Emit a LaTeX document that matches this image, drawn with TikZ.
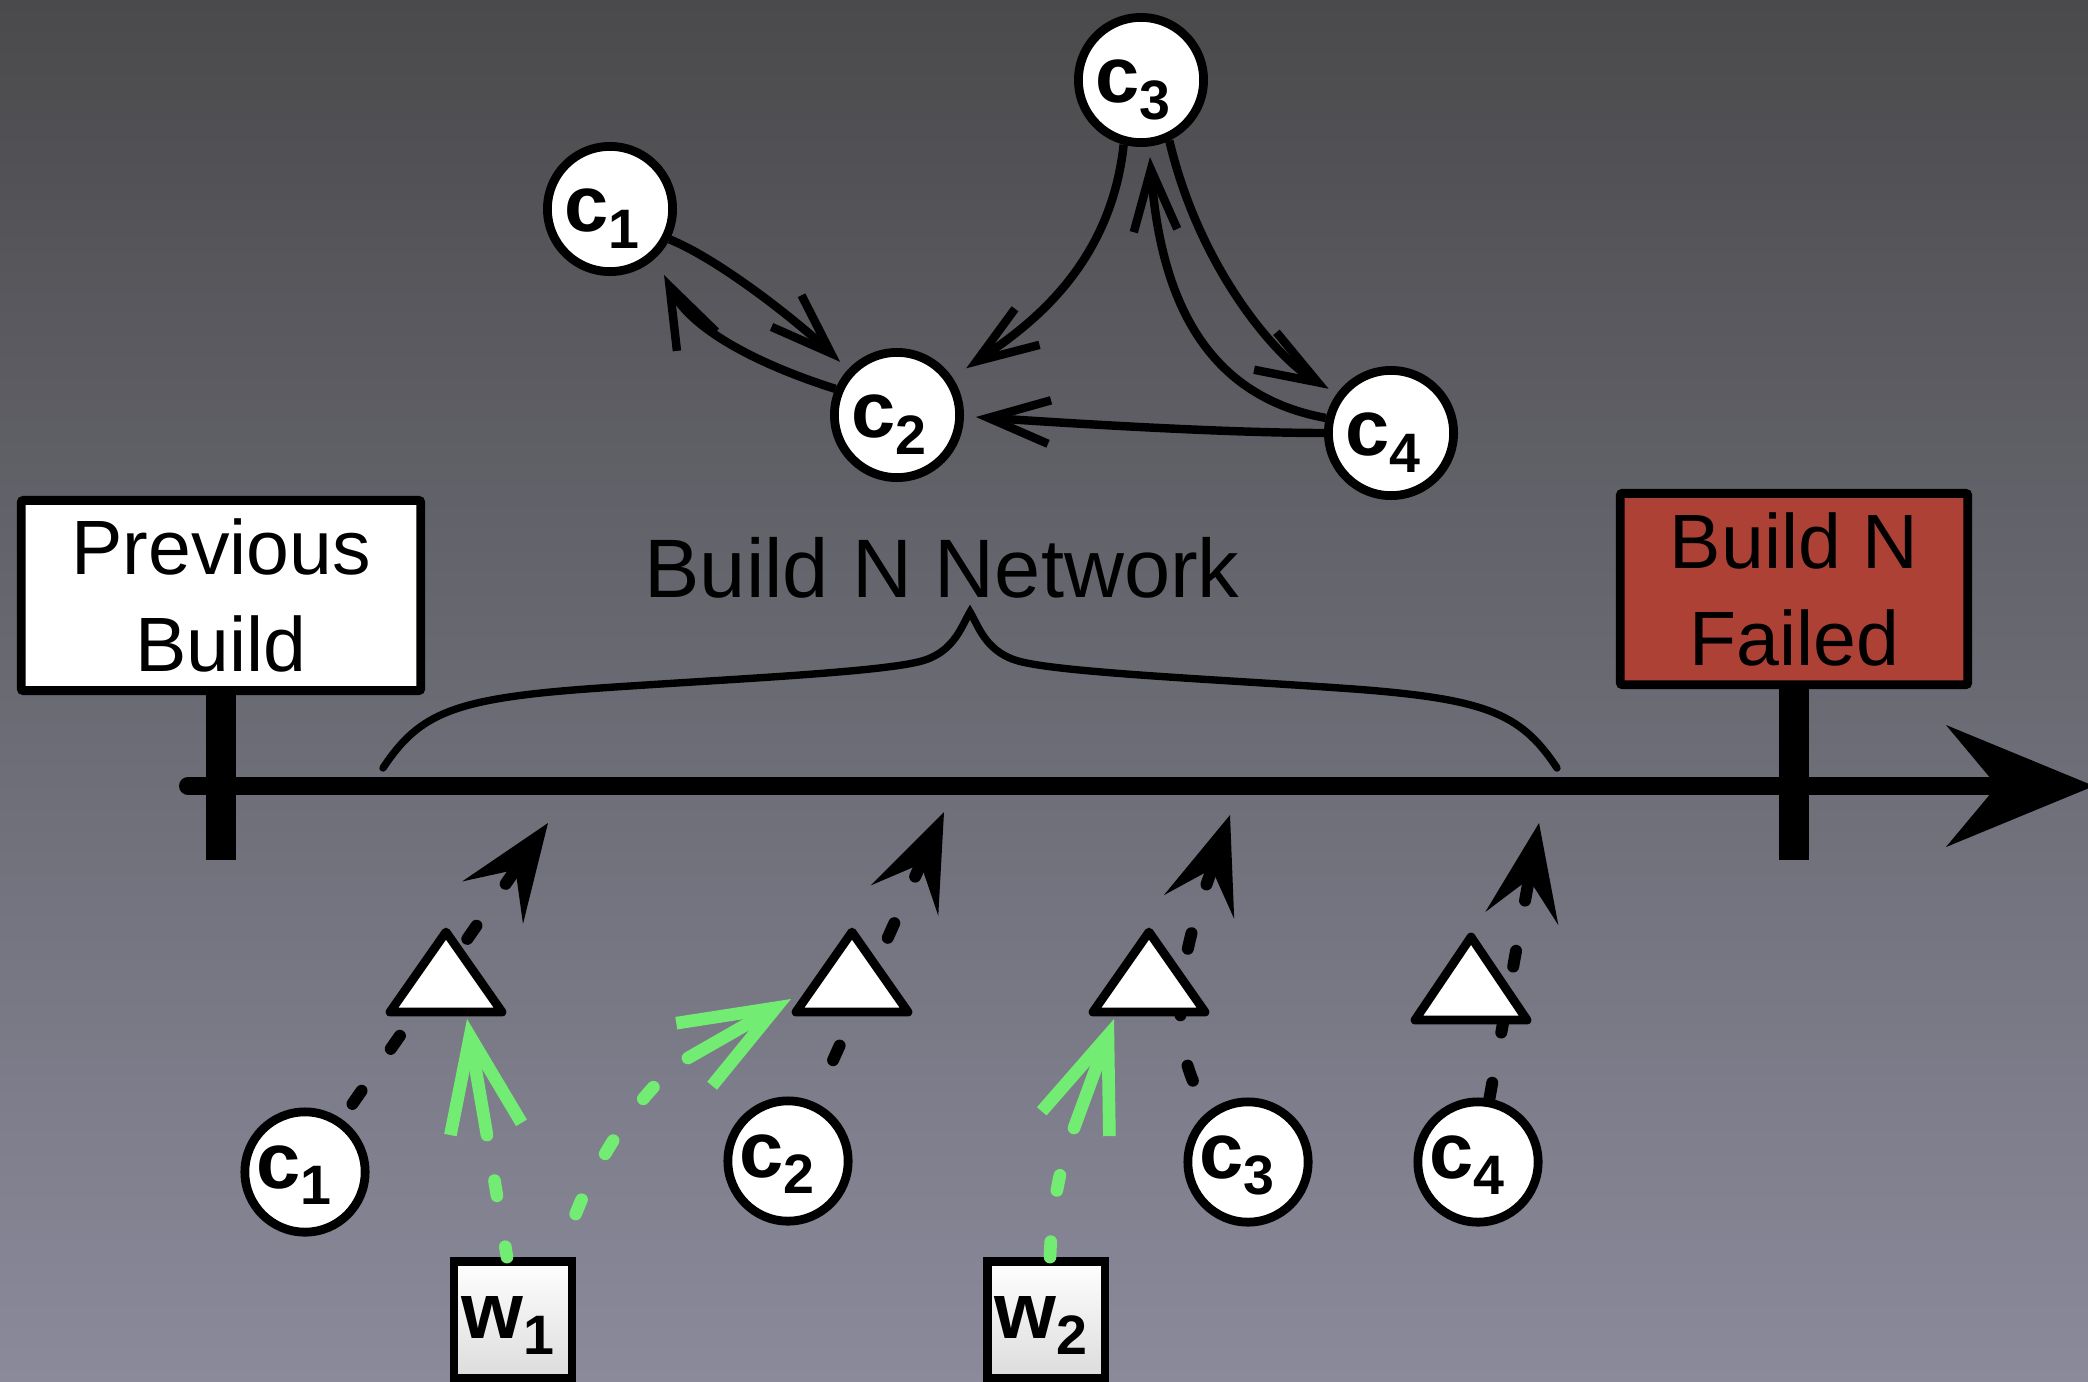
\documentclass[tikz,border=0pt]{standalone}
\usepackage{fontspec}
\setmainfont{Liberation Sans}
\usetikzlibrary{arrows.meta,calc}
\definecolor{bgtop}{HTML}{4A4A4C}
\definecolor{bgmid}{HTML}{5B5B71}
\definecolor{bgbot}{HTML}{8A8A9B}
\definecolor{failred}{HTML}{AD4135}
\definecolor{gcol}{HTML}{72EC72}
\definecolor{wgray}{HTML}{DCDCDC}
\newcommand\clab[3]{{\fontsize{22.6pt}{24pt}\selectfont\bfseries #1\raisebox{-4.6pt}{\fontsize{15.8pt}{16pt}\selectfont\bfseries #2}\kern#3}}
\begin{document}
\begin{tikzpicture}[x=0.01cm, y=-0.01cm,
  cbig/.style={circle, draw=black, fill=white, line width=2.5pt, minimum size=35.6pt, inner sep=0pt, text height=14.2pt, text depth=1.14pt},
  csmall/.style={circle, draw=black, fill=white, line width=2.5pt, minimum size=34.2pt, inner sep=0pt, text height=11.4pt, text depth=2.28pt},
  signbox/.style={draw=black, line width=2.5pt, inner sep=0pt, rounded corners=0.6pt, align=center, font=\fontsize{21.9pt}{27.6pt}\selectfont},
  wbox/.style={draw=black, line width=2.4pt, top color=white, bottom color=wgray, minimum width=33.4pt, minimum height=33.1pt, inner sep=0pt, text height=11.4pt, text depth=0.85pt},
  netedge/.style={draw=black, line width=2.4pt, -{Straight Barb[length=17.4pt,width=12.4pt]}},
  blkdash/.style={draw=black, line width=3.41pt, line cap=round, dash pattern=on 4.55pt off 14.51pt, -{Stealth[length=27.6pt,width=21.1pt,inset=11.4pt,line width=0pt]}},
  gdash/.style={draw=gcol, line width=3.6pt, line cap=round, dash pattern=on 4.4pt off 14.66pt},
  gsolid/.style={draw=gcol, line width=3.6pt, line cap=round, -{Straight Barb[length=26.7pt,width=20.5pt]}},
  tri/.style={draw=black, fill=white, line width=2.5pt, line join=round},
  post/.style={draw=black, line width=8.54pt},
  timeline/.style={draw=black, line width=5.12pt, line cap=round, -{Stealth[length=42.1pt,width=34.7pt,inset=14.5pt,line width=0pt]}},
  bracestyle/.style={draw=black, line width=2.1pt, line cap=round}
]
\useasboundingbox (0,0) rectangle (2088,1381);
\shade[top color=bgtop, middle color=bgmid, bottom color=bgbot] (0,0) rectangle (2088,1381);

% brace
\draw[bracestyle] (383,768) .. controls (420,712) and (455,698) .. (600,688)
  .. controls (730,679) and (890,672) .. (925,660)
  .. controls (955,650) and (962,625) .. (970,612)
  .. controls (978,625) and (985,650) .. (1015,660)
  .. controls (1050,672) and (1210,679) .. (1340,688)
  .. controls (1485,698) and (1520,712) .. (1557,768);

% signs
\node[signbox, fill=white, minimum width=113.6pt, minimum height=54.1pt] (prev) at (221,595.5) {Previous\\Build};
\node[signbox, fill=failred, minimum width=98.8pt, minimum height=54.4pt] (fail) at (1794,589) {Build N\\Failed};
\coordinate (prevfoot) at (221,860);
\coordinate (failfoot) at (1794,860);
\draw[post] (prev.south) -- (prevfoot);
\draw[post] (fail.south) -- (failfoot);

% timeline
\coordinate (tlstart) at (188,786);
\coordinate (tlend) at (2094,786);
\draw[timeline] (tlstart) -- (tlend);

\node[anchor=base, inner sep=0pt, font=\fontsize{23.6pt}{28pt}\selectfont] (net) at (942,597) {Build N Network};

% network
\node[cbig] (c1) at (610,209) {\clab{c}{1}{4.5pt}};
\node[cbig] (c2) at (897,415) {\clab{c}{2}{4.5pt}};
\node[cbig] (c3) at (1141,80) {\clab{c}{3}{4.5pt}};
\node[cbig] (c4) at (1391,433) {\clab{c}{4}{4.5pt}};
\draw[netedge, shorten >=3.1pt] (c1.-27) .. controls (720,260) and (797,321) .. (c2.137);
\draw[netedge, shorten >=5.4pt] (c2.157) .. controls (760,365) and (691,330) .. (c1.-47);
\draw[netedge, shorten >=4.7pt] (c3.-105) .. controls (1110,270) and (1024,329) .. (c2.34);
\draw[netedge, shorten >=2.7pt] (c3.-65) .. controls (1200,270) and (1277,358) .. (c4.144);
\draw[netedge, shorten >=3pt] (c4.167) .. controls (1200,395) and (1160,290) .. (c3.-83);
\draw[netedge, shorten >=3.4pt] (c4.180) .. controls (1230,433) and (1078,424) .. (c2.-1);

% bottom nodes
\node[csmall] (b1) at (305,1172) {\clab{c}{1}{6.3pt}};
\node[csmall] (b2) at (788,1161) {\clab{c}{2}{6.3pt}};
\node[csmall] (b3) at (1248,1162) {\clab{c}{3}{6.3pt}};
\node[csmall] (b4) at (1478,1162) {\clab{c}{4}{6.3pt}};
\node[wbox] (w1) at (513,1319.5) {\clab{w}{1}{2.8pt}};
\node[wbox] (w2) at (1046,1319.5) {\clab{w}{2}{2.8pt}};

\coordinate (t1tip) at (548,823);
\coordinate (t2tip) at (944,812);
\coordinate (t3tip) at (1230,815);
\coordinate (t4tip) at (1539,823);

\draw[blkdash, dash phase=13.8pt] (b1) -- (t1tip);
\draw[blkdash, dash phase=6pt] (b2) -- (t2tip);
\draw[blkdash, dash phase=9.4pt] (b3) .. controls (1150,1030) and (1198,910) .. (t3tip);
\draw[blkdash] (b4) -- (t4tip);

% triangles
\draw[tri] (446,932) -- (502,1012) -- (390,1012) -- cycle;
\draw[tri] (852,932) -- (908,1012) -- (796,1012) -- cycle;
\draw[tri] (1149,932) -- (1205,1012) -- (1093,1012) -- cycle;
\draw[tri] (1471,937) -- (1527,1020) -- (1415,1020) -- cycle;

% green arrows
\coordinate (g1m) at (487,1135);
\coordinate (g1t) at (467,1019);
\coordinate (g2m) at (688,1058);
\coordinate (g2t) at (791,999);
\coordinate (g3m) at (1074,1128);
\coordinate (g3t) at (1114,1019);
\draw[gdash, dash phase=1.4pt] ([xshift=-1.7pt]w1.north) -- (g1m);
\draw[gsolid] (g1m) -- (g1t);
\draw[gdash, dash phase=6.26pt] ([xshift=14.2pt]w1.north) .. controls (575,1190) and (640,1085) .. (g2m);
\draw[gsolid] (g2m) -- (g2t);
\draw[gdash] ([xshift=1.14pt]w2.north) .. controls (1052,1200) and (1062,1160) .. (g3m);
\draw[gsolid] (g3m) -- (g3t);
\end{tikzpicture}
\end{document}
